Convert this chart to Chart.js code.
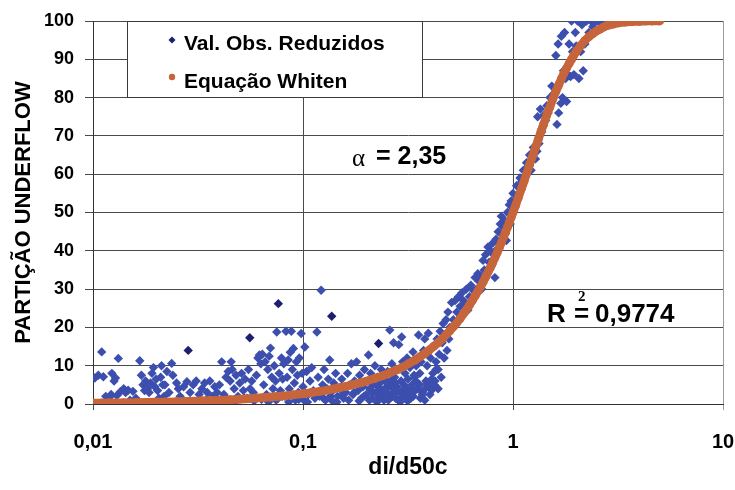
<!DOCTYPE html>
<html><head><meta charset="utf-8">
<script src="https://cdn.jsdelivr.net/npm/chart.js@4/dist/chart.umd.min.js"></script>
<style>html,body{margin:0;padding:0;background:#fff}canvas{display:block}</style>
</head><body>
<canvas id="c" width="735" height="490"></canvas>
<script>
// ---- data ----
const seriesNames = ['Val. Obs. Reduzidos', 'Equação Whiten'];
const xAxisTitle = 'di/d50c';
const yAxisTitle = 'PARTIÇÃO UNDERFLOW';
const xTicks = [0.01, 0.1, 1, 10];
const xTickLabels = ['0,01', '0,1', '1', '10'];
const yTicks = [0, 10, 20, 30, 40, 50, 60, 70, 80, 90, 100];
const alphaLabel = 'α';
const alphaValue = '= 2,35';
const r2Label = 'R';
const r2Sup = '2';
const r2Value = '0,9774';

const whitenX = [0.01,0.011,0.012,0.014,0.016,0.018,0.02,0.022,0.025,0.028,0.03,0.033,0.036,0.04,0.045,0.05,0.055,0.06,0.065,0.07,0.075,0.08,0.09,0.1,0.11,0.12,0.13,0.14,0.15,0.16,0.17,0.18,0.19,0.2,0.22,0.24,0.26,0.28,0.3,0.32,0.34,0.36,0.38,0.4,0.42,0.44,0.46,0.48,0.5,0.52,0.54,0.56,0.58,0.6,0.62,0.64,0.66,0.68,0.7,0.72,0.74,0.76,0.78,0.8,0.82,0.84,0.86,0.88,0.9,0.92,0.94,0.96,0.98,1.0,1.03,1.06,1.1,1.13,1.16,1.2,1.24,1.28,1.32,1.36,1.4,1.45,1.5,1.55,1.6,1.65,1.7,1.75,1.8,1.85,1.9,1.95,2.0,2.1,2.2,2.3,2.4,2.5,2.6,2.7,2.8,3.0,3.2,3.4,3.7,4.0,4.3,4.6,5.0];
const whitenY = [0.25,0.27,0.3,0.35,0.4,0.45,0.5,0.55,0.62,0.7,0.75,0.83,0.91,1.0,1.14,1.27,1.4,1.54,1.68,1.82,1.96,2.1,2.4,2.7,3.0,3.3,3.6,3.95,4.3,4.6,4.95,5.3,5.6,5.95,6.7,7.4,8.2,8.9,9.7,10.6,11.4,12.3,13.2,14.1,15.1,16.0,17.0,18.1,19.1,20.2,21.2,22.3,23.5,24.6,25.8,27.0,28.2,29.4,30.6,31.8,33.1,34.4,35.6,36.9,38.2,39.5,40.8,42.1,43.5,44.8,46.1,47.4,48.7,50.0,51.9,53.9,56.4,58.2,60.1,62.5,64.7,67.0,69.1,71.2,73.1,75.5,77.6,79.7,81.6,83.3,84.9,86.4,87.7,88.9,90.0,91.1,92.0,93.6,94.9,95.9,96.7,97.4,97.9,98.4,98.8,99.2,99.5,99.7,99.85,99.9,100,100,100];

const obsX = [
0.0102,0.0106,0.011,0.0112,0.0115,0.0118,0.012,0.0122,0.0123,0.0126,0.0128,0.013,0.0132,0.0135,0.014,0.0143,0.0147,0.015,0.0155,0.016,0.0167,0.017,0.0173,0.0176,0.0178,0.0182,0.0185,0.0188,0.0191,0.0194,0.0197,0.02,0.0203,0.0206,0.021,0.0212,0.0215,0.0218,
0.022,0.0225,0.023,0.0237,0.024,0.025,0.0255,0.026,0.027,0.028,0.029,0.030,0.031,0.0315,0.032,0.033,0.034,0.0345,0.035,0.036,0.037,0.038,0.0385,0.039,0.04,0.041,0.042,0.043,0.0435,0.044,0.045,0.0455,0.046,0.047,0.0475,0.048,0.049,0.05,0.051,0.052,0.0525,0.053,0.054,0.055,0.056,
0.057,0.058,0.0585,0.06,0.061,0.062,0.063,0.0635,0.064,0.065,0.066,0.067,0.068,0.0685,0.069,0.07,0.071,0.072,0.073,0.074,0.0745,0.075,0.076,0.077,0.078,0.079,0.0795,0.08,0.081,0.082,0.083,0.084,0.085,0.0855,0.086,0.087,0.088,0.089,0.09,0.091,0.092,0.093,0.094,0.095,0.0955,0.096,0.098,0.099,
0.1,0.101,0.102,0.104,0.105,0.106,0.108,0.11,0.112,0.114,0.115,0.1165,0.118,0.12,0.122,0.124,0.125,0.126,0.128,0.13,0.132,0.134,0.135,0.136,0.138,0.14,0.143,0.145,0.146,0.15,0.153,0.155,0.156,0.16,0.163,0.165,0.166,0.17,0.173,0.175,0.176,0.18,0.183,0.185,0.186,0.19,0.193,0.195,0.196,0.2,
0.203,0.205,0.207,0.208,0.21,0.213,0.215,0.216,0.22,0.223,0.225,0.226,0.23,0.233,0.235,0.236,0.24,0.243,0.245,0.246,0.25,0.253,0.255,0.256,0.259,0.262,0.265,0.267,0.268,0.27,0.273,0.275,0.276,0.28,0.283,0.285,0.286,0.29,0.293,0.295,0.297,0.298,0.3,0.303,0.305,0.306,0.31,0.313,0.315,0.316,0.32,0.323,0.325,0.326,0.33,0.334,0.335,0.338,0.342,0.345,0.346,
0.35,0.355,0.36,0.362,0.365,0.37,0.375,0.38,0.382,0.385,0.39,0.395,0.4,0.402,0.405,0.41,0.415,0.42,0.422,0.425,0.43,0.435,0.44,0.445,0.45,0.455,0.46,0.465,0.47,0.475,0.48,0.485,0.49,0.495,
0.5,0.51,0.52,0.53,0.54,0.55,0.56,0.57,0.58,0.59,0.6,0.61,0.62,0.63,0.64,0.65,0.66,0.67,0.68,0.69,0.7,0.71,0.72,0.73,0.74,0.75,0.76,0.77,0.78,0.79,0.8,0.81,0.82,0.83,0.84,0.85,0.86,0.87,0.88,0.89,0.9,0.91,0.92,0.93,0.94,0.95,0.96,0.97,0.98,0.99,
1.0,1.02,1.04,1.06,1.08,1.1,1.12,1.14,1.16,1.18,1.2,1.22,1.25,1.28,1.3,1.31,1.33,1.35,1.37,1.39,1.41,1.43,1.45,1.47,1.5,1.53,1.56,1.6,1.62,1.64,1.65,1.67,1.69,1.7,1.72,1.74,1.76,1.78,1.8,1.82,1.85,1.88,1.9,1.92,1.95,1.98,2.0,2.03,2.06,2.1,2.13,2.16,2.2,2.24,2.3,2.35,2.4,2.45,2.5,2.6,2.75,2.9,
0.212,0.228,0.244,0.262,0.278,0.29,0.31,0.33,0.37,0.39,0.41,0.43,0.44,0.34,0.36,0.38,0.27,0.25];
const obsY = [
6.8,7.5,13.6,7.1,2,1,1.8,2.5,8,6,6.8,2.2,11.9,3.2,4,3,3.6,1,3.3,1.5,11.3,7.5,5,3.5,6,4,3,5.5,8,9.5,4.5,6.5,3.5,1.5,7,10,5,2,
5,8.5,3,10.6,7.5,5.5,4,2,4.5,5.8,3,5,6,0.5,2.5,4,5.5,1,3,6,2,4.5,0.3,3,5,11,2.5,7,1.2,8.5,6,11,9,4,0.6,7.5,2,5.5,8,3.5,1.5,6.5,1.5,9,4,
6,3,0.8,7.5,12,12.8,10.5,1.2,13,5,11,2.5,9,0.5,12.5,14.6,7,4,10,6,1,18.8,1.5,8,3.5,12,2,6.5,10.5,2,19,7,11.5,0.5,4,13.5,19,9,14.5,5.5,1,11,7.5,3,1.2,12,18.4,8,
4.5,1,14.9,8.5,0.5,2.5,6,9.5,3.5,1.5,2.5,18.8,7,2,29.7,5,1.5,9,1,4,6.5,11.5,2,3,0.8,5.5,8,0.5,2,4,6.5,2.5,1.5,3,8,1,5,10.5,2.5,3,6,11,3.5,0.8,7.5,1.5,4.5,2,9,2.5,
6,12.8,1,4,8,1.5,3,5,10,3,0.5,7,2,5.5,2.5,9,3.5,1,4,6,4,8.5,1,2.5,19.3,5,10.5,2,3,16,7,5.5,1.5,4.5,9,1,15.5,3,6,17.5,3.5,11,2,5,2.5,8,4,12,0.8,6.5,3,9.5,4,1.5,5,13.6,2,7.5,3.5,6,10,
4,18,8,1.5,11,3,14,17,4,6,10,18.5,4.5,2.5,12,3.6,8,15,5,6,11,17,9,13,19,7,16,21,12,18,22,14,24,17,
20,26.5,22,27,24,28,25.5,29,27,26,30,24.5,28,31,27,29.5,33,30,34,32,33.5,30,37.5,35,39,34.5,41,37,40,36,42,39,33,43,40.5,45,42,47,49,44,46,48,44.5,42.7,50,47,52,47,53,50.5,
55,52,57,54.5,59,58,61,59.5,63,62,65,61,67,64,66,75,68,77,71,72.6,75.5,74,77.9,76,80,83,81,91,73,94,76,84,78.5,96,80,87,97,85,79,86,94,85.5,100,92,86,97,93.5,100,85,92,99,87,94,100,97,100,98.5,100,100,99.5,100,99,
3.5,4.5,2,6,3,0.5,1.5,3,2.5,5.5,6.5,9,4,7,5,1,4,6];

const obsDarkX = [0.0284, 0.0558, 0.0763, 0.137, 0.229];
const obsDarkY = [14, 17.3, 26.2, 22.9, 15.8];

// ---- styles ----
const BLUE = '#3c4eae';
const NAVY = '#1c1f6e';
const ORANGE = '#c6653b';
const GRID = '#4a4a4a';
const FONT = "'Liberation Sans', Arial, sans-serif";
const SERIF = "'Liberation Serif', 'Times New Roman', serif";

const pts = (xs, ys) => xs.map((x, i) => ({x: x, y: ys[i]}));

const overlay = {
  id: 'overlay',
  afterDraw(chart) {
    const ctx = chart.ctx;
    const a = chart.chartArea;
    ctx.save();
    // legend box
    const bx = a.left + 34.5, by = a.top + 0.5, bw = 295, bh = 76;
    ctx.fillStyle = '#fff';
    ctx.fillRect(bx, by, bw, bh);
    ctx.strokeStyle = '#3a3a3a';
    ctx.lineWidth = 1;
    ctx.strokeRect(bx, by, bw, bh);
    // marker 1 (diamond)
    ctx.fillStyle = NAVY;
    ctx.beginPath();
    const mx = a.left + 79, my1 = a.top + 19;
    ctx.moveTo(mx, my1 - 3.5); ctx.lineTo(mx + 3.5, my1); ctx.lineTo(mx, my1 + 3.5); ctx.lineTo(mx - 3.5, my1); ctx.closePath();
    ctx.fill();
    // marker 2 (circle)
    ctx.fillStyle = ORANGE;
    ctx.beginPath();
    ctx.arc(mx, a.top + 56, 3.2, 0, Math.PI * 2);
    ctx.fill();
    ctx.fillStyle = '#000';
    ctx.font = 'bold 21px ' + FONT;
    ctx.textBaseline = 'alphabetic';
    ctx.textAlign = 'left';
    ctx.fillText(seriesNames[0], a.left + 91, a.top + 29);
    ctx.fillText(seriesNames[1], a.left + 91, a.top + 67);
    // alpha annotation
    ctx.font = '25px ' + SERIF;
    ctx.fillText(alphaLabel, 352, 166);
    ctx.font = 'bold 25px ' + FONT;
    ctx.fillText(alphaValue, 376, 164);
    // R2 annotation
    ctx.font = 'bold 26px ' + FONT;
    ctx.fillText(r2Label, 547, 322);
    ctx.fillText('=', 574, 322);
    ctx.fillText(r2Value, 595, 322);
    ctx.font = 'bold 15px ' + SERIF;
    ctx.fillText(r2Sup, 578, 301);
    ctx.restore();
  }
};

new Chart(document.getElementById('c'), {
  type: 'scatter',
  data: {
    datasets: [
      {
        label: seriesNames[1],
        data: pts(whitenX, whitenY),
        showLine: true,
        borderColor: ORANGE,
        borderWidth: 8.5,
        backgroundColor: ORANGE,
        pointRadius: 4.4,
        pointBorderWidth: 0,
        pointStyle: 'circle',
        order: 0
      },
      {
        label: seriesNames[0],
        data: pts(obsX, obsY),
        backgroundColor: BLUE,
        borderColor: BLUE,
        pointStyle: 'rectRot',
        pointRadius: 4.7,
        pointBorderWidth: 0,
        order: 1
      },
      {
        label: seriesNames[0] + ' ',
        data: pts(obsDarkX, obsDarkY),
        backgroundColor: NAVY,
        borderColor: NAVY,
        pointStyle: 'rectRot',
        pointRadius: 4.7,
        pointBorderWidth: 0,
        order: 2
      }
    ]
  },
  options: {
    responsive: false,
    animation: false,
    devicePixelRatio: 1,
    layout: {padding: {top: 21, right: 12, left: 0, bottom: 0}},
    plugins: {legend: {display: false}, tooltip: {enabled: false}},
    scales: {
      x: {
        type: 'logarithmic',
        min: xTicks[0],
        max: xTicks[xTicks.length - 1],
        afterBuildTicks: s => { s.ticks = xTicks.map(v => ({value: v})); },
        afterFit: s => { s.height = 86; s.paddingLeft = 0; s.paddingRight = 0; },
        ticks: {
          callback: v => { const i = xTicks.indexOf(v); return i >= 0 ? xTickLabels[i] : ''; },
          font: {family: FONT, weight: 'bold', size: 20},
          color: '#000',
          padding: 20,
          maxRotation: 0,
          autoSkip: false
        },
        grid: {color: c => (c.tick && c.tick.value === 10 ? '#9a9a9a' : GRID), lineWidth: 1, tickLength: 6},
        border: {color: '#333'},
        title: {display: true, text: xAxisTitle, color: '#000', font: {family: FONT, weight: 'bold', size: 23}, padding: {top: 0, bottom: 9}}
      },
      y: {
        min: 0,
        max: 100,
        afterBuildTicks: s => { s.ticks = yTicks.map(v => ({value: v})); },
        afterFit: s => { s.width = 93; s.paddingTop = 0; s.paddingBottom = 0; },
        ticks: {
          font: {family: FONT, weight: 'bold', size: 18},
          color: '#000',
          padding: 11
        },
        grid: {color: GRID, lineWidth: 1, tickLength: 8},
        border: {color: '#333'},
        title: {display: true, text: yAxisTitle, color: '#000', font: {family: FONT, weight: 'bold', size: 22}, padding: {top: 11, bottom: 0}}
      }
    }
  },
  plugins: [overlay]
});
</script>
</body></html>
